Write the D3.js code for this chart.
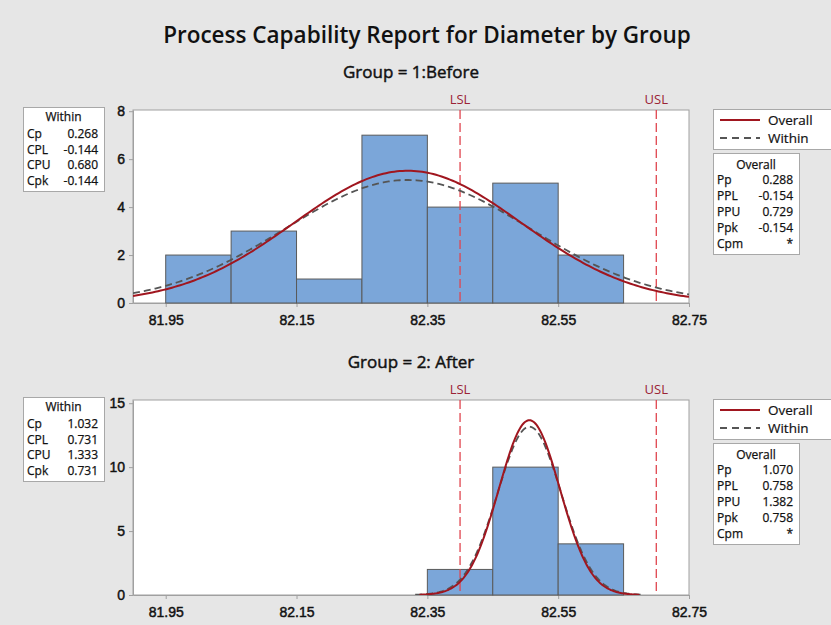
<!DOCTYPE html>
<html>
<head>
<meta charset="utf-8">
<script src="https://cdn.jsdelivr.net/npm/d3@7"></script>
<style>
  body { margin: 0; background: #e6e6e6; }
  svg { display: block; font-family: "Open Sans", "Noto Sans", sans-serif; }
  .frame { fill: #fff; stroke: #a0a0a0; stroke-width: 1; }
  .bar { fill: #7ba6d9; stroke: #5a5a5a; stroke-width: 1; }
  .tick-label { font-size: 14px; fill: #111; stroke: #111; stroke-width: 0.45px; }
  .spec-line { stroke: #e0454f; stroke-width: 1.3; stroke-dasharray: 9,4; }
  .spec-label { font-size: 13px; fill: #9b2335; }
  .box { fill: #fff; stroke: #a8a8a8; stroke-width: 1; }
  .box-text { font-size: 12px; fill: #111; stroke: #111; stroke-width: 0.25px; }
  .medium { stroke: #111; stroke-width: 0.45px; }
  .legend-text { font-size: 13.5px; fill: #111; stroke: #111; stroke-width: 0.2px; }
</style>
</head>
<body>
<div id="chart"></div>
<script>
// ---- data ----
const title = "Process Capability Report for Diameter by Group";
const groupTitles = ["Group = 1:Before", "Group = 2: After"];
const xDomain = [81.9, 82.75];
const xTicks = [81.95, 82.15, 82.35, 82.55, 82.75];
const specLimits = [82.4, 82.7];
const specNames = ["LSL", "USL"];
const binWidth = 0.1;

const beforeBinStarts = [81.95, 82.05, 82.15, 82.25, 82.35, 82.45, 82.55];
const beforeCounts = [2, 3, 1, 7, 4, 5, 2];
const afterBinStarts = [82.35, 82.45, 82.55];
const afterCounts = [2, 10, 4];

const yTicks = [[0, 2, 4, 6, 8], [0, 5, 10, 15]];
const yMax = [8.05, 15.25];

// normal fits (mean, overall / within std dev)
const fitMeans = [82.320, 82.506];
const overallStDev = [0.1736, 0.0467];
const withinStDev = [0.1866, 0.0485];

const withinLabels = ["Cp", "CPL", "CPU", "Cpk"];
const beforeWithinValues = ["0.268", "-0.144", "0.680", "-0.144"];
const afterWithinValues = ["1.032", "0.731", "1.333", "0.731"];
const overallLabels = ["Pp", "PPL", "PPU", "Ppk", "Cpm"];
const beforeOverallValues = ["0.288", "-0.154", "0.729", "-0.154", "*"];
const afterOverallValues = ["1.070", "0.758", "1.382", "0.758", "*"];

const width = 831, height = 625;
const plotLeft = 133, plotRight = 689;
const panelTops = [110, 400], panelBottoms = [303, 595];

const svg = d3.select("#chart").append("svg")
    .attr("width", width)
    .attr("height", height);

svg.append("text")
    .attr("x", 427)
    .attr("y", 43)
    .attr("text-anchor", "middle")
    .attr("font-size", 22.5)
    .attr("font-weight", 600)
    .attr("fill", "#111")
    .text(title);

const panels = [
    {bins: beforeBinStarts, counts: beforeCounts, within: beforeWithinValues, overall: beforeOverallValues},
    {bins: afterBinStarts, counts: afterCounts, within: afterWithinValues, overall: afterOverallValues}
];

panels.forEach((p, i) => renderPanel(p, i));

function renderPanel(p, i) {
    const top = panelTops[i], bottom = panelBottoms[i];
    const x = d3.scaleLinear().domain(xDomain).range([plotLeft, plotRight]);
    const y = d3.scaleLinear().domain([0, yMax[i]]).range([bottom, top]);
    const g = svg.append("g").attr("class", `panel-${i}`);

    g.append("text")
        .attr("class", "medium")
        .attr("x", (plotLeft + plotRight) / 2)
        .attr("y", top - 32)
        .attr("text-anchor", "middle")
        .attr("font-size", 17)
        .attr("fill", "#111")
        .text(groupTitles[i]);

    g.append("rect").attr("class", "frame")
        .attr("x", plotLeft).attr("y", top)
        .attr("width", plotRight - plotLeft).attr("height", bottom - top);

    // axes
    const xAxis = g.append("g")
        .attr("transform", `translate(0,${bottom})`)
        .call(d3.axisBottom(x).tickValues(xTicks).tickSize(4).tickSizeOuter(0).tickFormat(d3.format(".2f")));
    const yAxis = g.append("g")
        .attr("transform", `translate(${plotLeft},0)`)
        .call(d3.axisLeft(y).tickValues(yTicks[i]).tickSize(4).tickSizeOuter(0));
    [xAxis, yAxis].forEach(a => {
        a.select(".domain").attr("stroke", "#a0a0a0");
        a.selectAll(".tick line").attr("stroke", "#a0a0a0");
        a.selectAll(".tick text").attr("class", "tick-label").attr("font-family", null).attr("font-size", null);
    });
    xAxis.selectAll(".tick text").attr("dy", "1.05em");
    yAxis.selectAll(".tick text").attr("dx", "-1px");

    const clipId = `clip-${i}`;
    g.append("clipPath").attr("id", clipId)
        .append("rect")
        .attr("x", plotLeft).attr("y", top)
        .attr("width", plotRight - plotLeft).attr("height", bottom - top);

    // histogram
    g.selectAll(".bar")
        .data(p.bins.map((b, k) => ({x0: b, x1: b + binWidth, count: p.counts[k]})))
        .enter()
        .append("rect")
        .attr("class", "bar")
        .attr("x", d => x(d.x0))
        .attr("y", d => y(d.count))
        .attr("width", d => x(d.x1) - x(d.x0))
        .attr("height", d => y(0) - y(d.count));

    // spec limits
    specLimits.forEach((s, k) => {
        g.append("line").attr("class", "spec-line")
            .attr("x1", x(s)).attr("x2", x(s))
            .attr("y1", top).attr("y2", bottom);
        g.append("text").attr("class", "spec-label")
            .attr("x", x(s)).attr("y", top - 6)
            .attr("text-anchor", "middle")
            .text(specNames[k]);
    });

    // fitted normal curves
    const n = d3.sum(p.counts);
    const renderCurve = (sd, color, dash, w) => {
        const mu = fitMeans[i];
        const lo = Math.max(xDomain[0], mu - 3.6 * sd), hi = Math.min(xDomain[1], mu + 3.6 * sd);
        const pts = d3.range(0, 201).map(k => {
            const v = lo + (hi - lo) * k / 200;
            const dens = Math.exp(-0.5 * ((v - mu) / sd) ** 2) / (sd * Math.sqrt(2 * Math.PI));
            return [v, dens * n * binWidth];
        });
        g.append("path")
            .attr("clip-path", `url(#${clipId})`)
            .attr("d", d3.line().x(d => x(d[0])).y(d => y(d[1]))(pts))
            .attr("fill", "none")
            .attr("stroke", color)
            .attr("stroke-width", w)
            .attr("stroke-dasharray", dash);
    };
    renderCurve(withinStDev[i], "#555", "7,4", 1.8);
    renderCurve(overallStDev[i], "#a0161f", null, 2);

    renderStatBox(g, 23, top - 3, 81, 84, "Within", withinLabels, p.within, 10, 27, 15.5);
    renderLegend(g, top);
    renderStatBox(g, 713, top + 43, 86, 101, "Overall", overallLabels, p.overall, 12, 27, 16);
}

function renderStatBox(g, bx, by, bw, bh, header, labels, values, headerDy, rowDy, step) {
    g.append("rect").attr("class", "box")
        .attr("x", bx + 0.5).attr("y", by + 0.5).attr("width", bw).attr("height", bh);
    g.append("text").attr("class", "box-text")
        .attr("x", bx + bw / 2).attr("y", by + headerDy + 4)
        .attr("text-anchor", "middle")
        .text(header);
    labels.forEach((l, k) => {
        const ty = by + rowDy + k * step + 4;
        g.append("text").attr("class", "box-text")
            .attr("x", bx + 4).attr("y", ty).text(l);
        g.append("text").attr("class", "box-text")
            .attr("x", bx + bw - 6).attr("y", ty)
            .attr("text-anchor", "end").text(values[k]);
    });
}

function renderLegend(g, top) {
    g.append("rect").attr("class", "box")
        .attr("x", 713.5).attr("y", top - 0.5).attr("width", 130).attr("height", 40);
    const items = [
        {label: "Overall", color: "#a0161f", dash: null, dy: 10},
        {label: "Within", color: "#555", dash: "7,5", dy: 28}
    ];
    items.forEach(it => {
        g.append("line")
            .attr("x1", 720).attr("x2", 760)
            .attr("y1", top + it.dy).attr("y2", top + it.dy)
            .attr("stroke", it.color).attr("stroke-width", 2)
            .attr("stroke-dasharray", it.dash);
        g.append("text")
            .attr("class", "legend-text")
            .attr("x", 768).attr("y", top + it.dy + 4.5)
            .text(it.label);
    });
}
</script>
</body>
</html>
